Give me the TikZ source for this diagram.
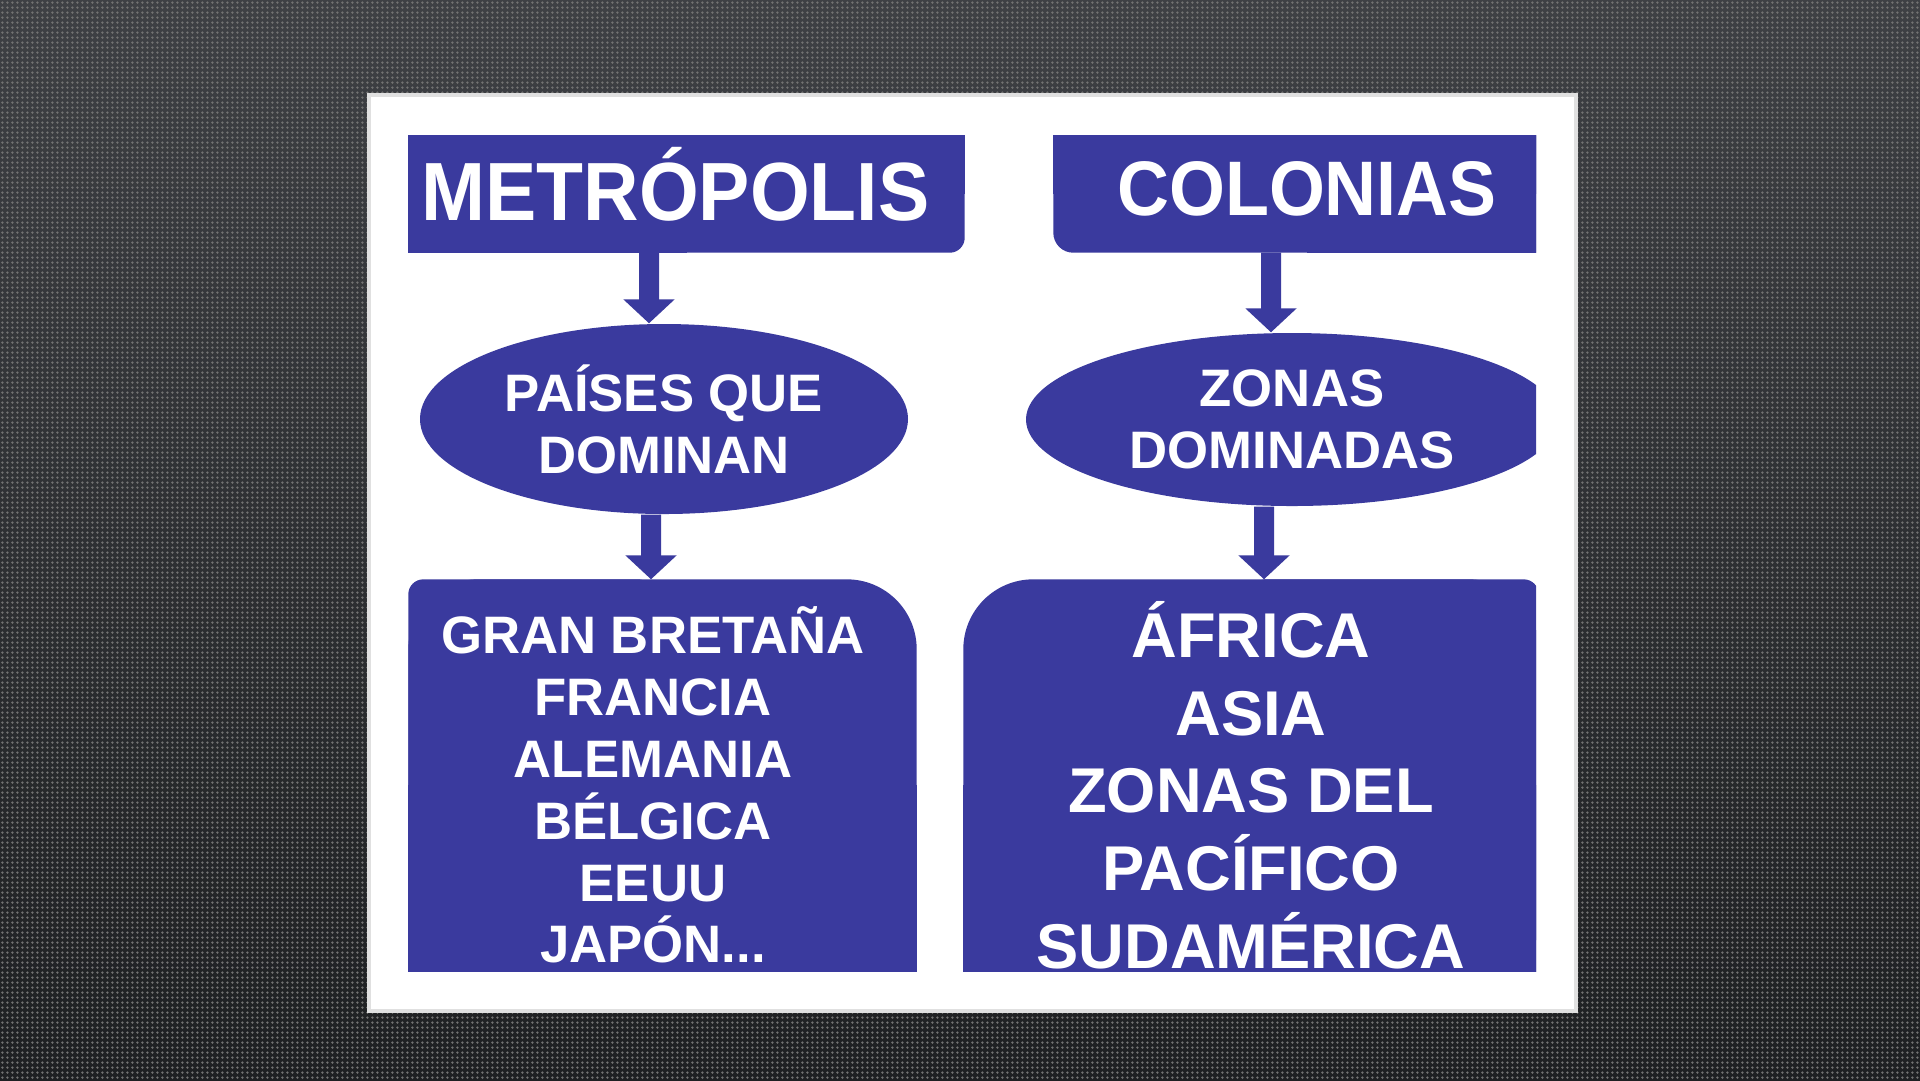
\documentclass[tikz,border=0pt]{standalone}
\usepackage{fontspec}
\usepackage{graphicx}
\setmainfont{Liberation Sans}
\usetikzlibrary{shapes.geometric,arrows.meta,backgrounds,patterns.meta}
\definecolor{azul}{RGB}{58,58,158}
\definecolor{fondoA}{RGB}{62,64,68}
\definecolor{fondoB}{RGB}{30,32,34}
\tikzdeclarepattern{name=puntitos,type=uncolored,
  bounding box={(0pt,0pt) and (1.4pt,1.4pt)},tile size={(1.4pt,1.4pt)},
  code={\fill (0.7pt,0.7pt) circle (0.38pt);}}

\begin{document}
\begin{tikzpicture}[x=0.1mm,y=-0.1mm,
  caja/.style={inner sep=0pt,text=white,align=center},
  globo/.style={ellipse,fill=azul,inner sep=0pt,text=white,align=center,font=\bfseries\fontsize{15}{17.6}\selectfont},
  flecha/.style={azul,line width=2mm,-{Triangle[width=5mm,length=2.4mm]}}]
\useasboundingbox (0,0) rectangle (1920,1080);
\begin{scope}[on background layer]
\shade[top color=fondoA,bottom color=fondoB] (0,0) rectangle (1920,1080);
\fill[pattern=puntitos,pattern color=black!55] (0,0) rectangle (1920,1080);
\fill[white,draw=black!12,line width=0.4mm] (369,95) rectangle (1576,1011);
\end{scope}

\begin{scope}
\clip (370,100) rectangle (1536,971);
\node[caja,minimum width=55.5mm,minimum height=11.6mm,font=\bfseries\fontsize{23.5}{26}\selectfont] (metro) at (686.5,194)
  {\raisebox{2.1mm}{\scalebox{0.93}[1]{METRÓPOLIS}\hspace{2.2mm}}};
\node[caja,minimum width=50.6mm,minimum height=11.6mm,font=\bfseries\fontsize{22}{26}\selectfont] (colonias) at (1307,194)
  {\raisebox{1.2mm}{\scalebox{0.93}[1]{COLONIAS}}};
\node[globo,minimum width=48.8mm,minimum height=19mm] (paises) at (664,419) {PAÍSES QUE\\DOMINAN};
\node[globo,minimum width=53.2mm,minimum height=17.3mm] (zonas) at (1292,419.5) {ZONAS\\DOMINADAS};
\node[caja,minimum width=48.8mm,minimum height=41mm,font=\bfseries\fontsize{15}{17.6}\selectfont] (lista) at (653,785)
  {GRAN BRETAÑA\\FRANCIA\\ALEMANIA\\BÉLGICA\\EEUU\\JAPÓN...};
\node[caja,minimum width=57.4mm,minimum height=41mm,font=\bfseries\fontsize{18}{22.1}\selectfont] (region) at (1251,785)
  {ÁFRICA\\ASIA\\ZONAS DEL\\PACÍFICO\\SUDAMÉRICA};
\end{scope}

% cajas con esquinas distintas
\begin{scope}[on background layer]
\clip (370,100) rectangle (1536,971);
\fill[azul,rounded corners=1.5mm] (metro.north west) rectangle (metro.south east);
\fill[azul] (metro.north west) rectangle (metro.south);
\fill[azul] (metro.north west) rectangle (metro.east);
\fill[azul,rounded corners=2mm] (colonias.north west) rectangle (colonias.south east);
\fill[azul] (colonias.north) rectangle (colonias.south east);
\fill[azul] (colonias.north west) rectangle (colonias.east);
\fill[azul,rounded corners=7mm] (lista.north west) rectangle ([xshift=1.9mm]lista.south east);
\fill[azul,rounded corners=1.5mm] (lista.north west) rectangle (lista.south);
\fill[azul] (lista.west) rectangle ([xshift=1.9mm]lista.south east);
\fill[azul,rounded corners=7mm] (region.north west) rectangle (region.south east);
\fill[azul,rounded corners=1.5mm] (region.north) rectangle (region.south east);
\fill[azul] (region.west) rectangle (region.south east);
\end{scope}

\draw[flecha] ([xshift=-3.75mm]metro.south) -- ([xshift=-1.5mm]paises.north);
\draw[flecha] ([xshift=-3.6mm]colonias.south) -- ([xshift=-2.1mm]zonas.north);
\draw[flecha] ([xshift=-1.3mm]paises.south) -- ([xshift=-0.2mm]lista.north);
\draw[flecha] ([xshift=-2.8mm]zonas.south) -- ([xshift=1.3mm]region.north);
\end{tikzpicture}
\end{document}
